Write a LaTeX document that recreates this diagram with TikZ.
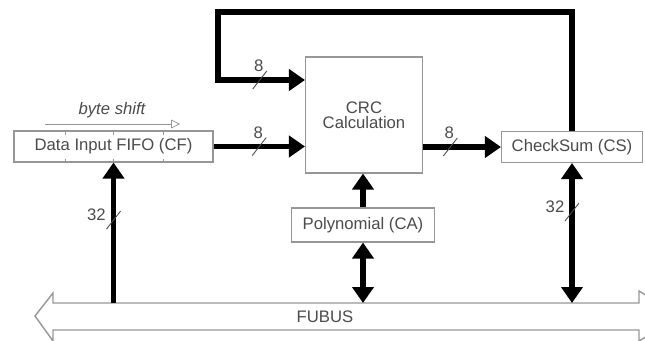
\documentclass[tikz,border=0pt]{standalone}
\usepackage{fontspec}
\setmainfont{Liberation Sans}
\usetikzlibrary{arrows.meta, positioning, calc}
\definecolor{boxgray}{RGB}{150,150,150}
\definecolor{txtgray}{RGB}{75,75,75}

\begin{document}
\begin{tikzpicture}[x=0.02cm, y=-0.02cm,
  blk/.style={draw=boxgray, line width=0.6pt, fill=white, text=txtgray, font=\fontsize{9.5}{11}\selectfont, inner sep=0pt, align=center},
  bus/.style={line width=3.3pt, line join=miter, -{Triangle[length=0.32cm,width=0.42cm]}},
  dbus/.style={line width=3.3pt, {Triangle[length=0.32cm,width=0.42cm]}-{Triangle[length=0.32cm,width=0.42cm]}},
  slash/.style={draw=txtgray, line width=0.5pt},
  wlab/.style={text=txtgray, font=\fontsize{9.5}{11}\selectfont, inner sep=0pt}
]
  \useasboundingbox (0,0) rectangle (645,341);
  \clip (0,0) rectangle (645,341);

  \node[blk, minimum width=3.98cm, minimum height=0.62cm] (fifo) at (113.5,146.5) {Data Input FIFO (CF)};
  \node[blk, minimum width=2.34cm, minimum height=2.32cm] (crc) at (364,115) {CRC\\[-2.5pt]Calculation};
  \node[blk, minimum width=2.82cm, minimum height=0.62cm] (cs) at (572,147) {CheckSum (CS)};
  \node[blk, minimum width=2.86cm, minimum height=0.68cm] (poly) at (363,225) {Polynomial (CA)};
  \node[wlab, font=\fontsize{9.5}{11}\selectfont\itshape] (shift) at (112,110) {byte shift};
  \node[wlab] (fubus) at (325,317) {FUBUS};

  \coordinate (shs) at (45,124);
  \coordinate (she) at (180,124);
  \coordinate (loop) at (218,12);
  \coordinate (bustop) at (0,303);

  \foreach \x in {65,113,163} {
    \draw[boxgray] (\x,132) -- (\x,135);
    \draw[boxgray] (\x,159) -- (\x,162);
  }
  \draw[boxgray, -{Triangle[open, length=5pt, width=5pt]}] (shs) -- (she);

  \draw[boxgray, line width=0.8pt] (53,303) -- (53,293) -- (35,316) -- (53,341) -- (53,330)
    -- (639,330) -- (639,341) -- (680,316) -- (639,291) -- (639,303) -- cycle;

  \draw[bus] (cs.north) |- (loop) |- coordinate[pos=.74] (w1) ([yshift=0.7cm]crc.west);
  \draw[bus] (fifo.east) -- coordinate[pos=.5] (w2) (fifo.east -| crc.west);
  \draw[bus] (crc.east |- cs.west) -- coordinate[pos=.35] (w3) (cs.west);
  \draw[bus] (bustop -| fifo.south) -- coordinate[pos=.59] (w4) (fifo.south);
  \draw[bus] (poly.north) -- (poly.north |- crc.south);
  \draw[dbus] (poly.south) -- (poly.south |- bustop);
  \draw[dbus] (cs.south) -- coordinate[pos=.35] (w5) (cs.south |- bustop);

  \foreach \w/\t in {w1/8, w2/8, w3/8} {
    \draw[slash] ($(\w)+(-7,9)$) -- ($(\w)+(7,-9)$);
    \node[wlab] at ($(\w)+(-1,-14)$) {\t};
  }
  \foreach \w/\t in {w4/32, w5/32} {
    \draw[slash] ($(\w)+(-7,9)$) -- ($(\w)+(7,-9)$);
    \node[wlab] at ($(\w)+(-17,-5)$) {\t};
  }
\end{tikzpicture}
\end{document}
